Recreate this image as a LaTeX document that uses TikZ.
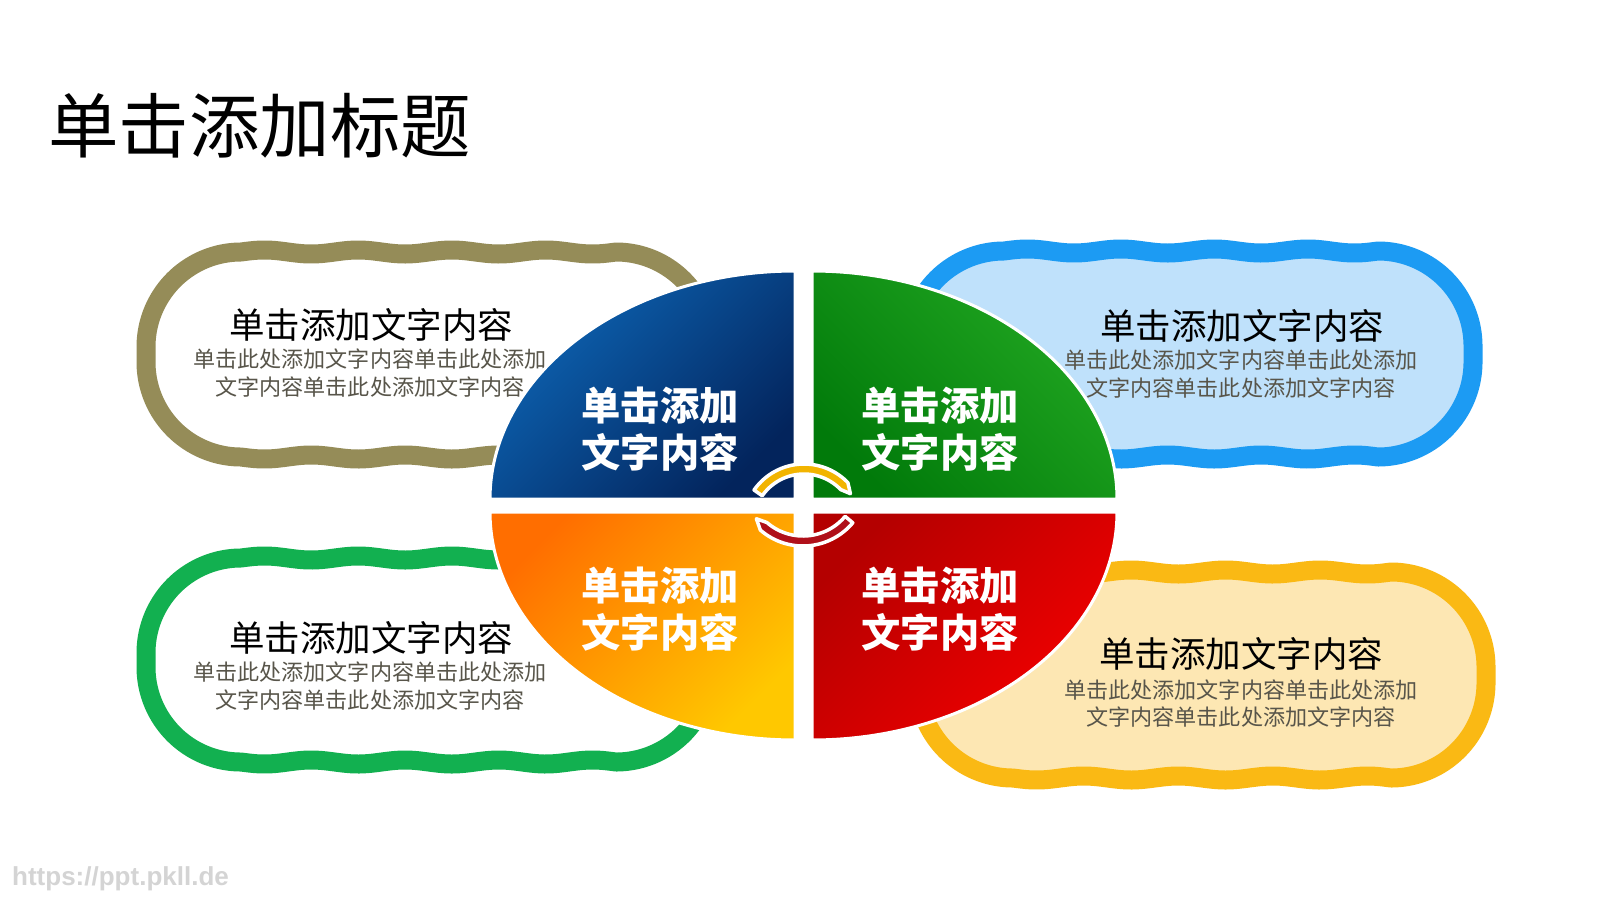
\documentclass[tikz,border=0pt]{standalone}
\usepackage{fontspec}
\newfontfamily\cjk{Noto Sans CJK SC}
\newfontfamily\wmfont{Liberation Sans}
\definecolor{olivel}{HTML}{958C58}
\definecolor{bluel}{HTML}{1C9BF3}
\definecolor{bluef}{HTML}{BFE1FB}
\definecolor{greenl}{HTML}{12B050}
\definecolor{yell}{HTML}{FAB914}
\definecolor{yelf}{HTML}{FDE7B3}
\definecolor{subgray}{HTML}{58554A}
\definecolor{qbluea}{HTML}{0D66B6}
\definecolor{qblueb}{HTML}{03245C}
\definecolor{qgreena}{HTML}{22A822}
\definecolor{qgreenb}{HTML}{017A0A}
\definecolor{qorangea}{HTML}{FF6E00}
\definecolor{qorangeb}{HTML}{FFC800}
\definecolor{qreda}{HTML}{B40000}
\definecolor{qredb}{HTML}{F40000}
\definecolor{arrowyel}{HTML}{F2B400}
\definecolor{arrowred}{HTML}{B0101A}
\definecolor{wmgray}{HTML}{D4D4D4}
\newcommand\wavepill[6]{%
  \pgfmathsetmacro\wpL{#3}\pgfmathsetmacro\wpT{#4}%
  \pgfmathsetmacro\wpR{#5}\pgfmathsetmacro\wpB{#6}%
  \pgfmathsetmacro\wpa{\wpL+\wpr}\pgfmathsetmacro\wpb{\wpR-\wpr}%
  \pgfmathsetmacro\wplen{\wpb-\wpa}%
  \filldraw[pillline, draw=#1, fill=#2]
    plot[domain=\wpa:\wpb] (\x,{\wpT-\wpamp*sin(((\x-\wpa)/\wplen)*360*\wpn)})
    -- plot[domain=270:360] ({\wpb+\wpr*cos(\x)},{\wpT+\wpr+\wpr*sin(\x)})
    -- plot[domain=0:90] ({\wpb+\wpr*cos(\x)},{\wpB-\wpr+\wpr*sin(\x)})
    -- plot[domain=\wpb:\wpa] (\x,{\wpB+\wpamp*sin(((\x-\wpa)/\wplen)*360*\wpn)})
    -- plot[domain=90:180] ({\wpa+\wpr*cos(\x)},{\wpB-\wpr+\wpr*sin(\x)})
    -- plot[domain=180:270] ({\wpa+\wpr*cos(\x)},{\wpT+\wpr+\wpr*sin(\x)})
    -- cycle;}
\def\wpr{95}
\def\wpamp{2}
\def\wpn{4}
\begin{document}
\begin{tikzpicture}[x=1pt,y=-1pt,
  pillline/.style={line width=19pt, samples=90, line join=round},
  quarter/.style={draw=white, line width=3pt, samples=90, line join=round},
  ptitle/.style={anchor=base, inner sep=0pt, text=black, font=\cjk\fontsize{35.5}{40}\selectfont},
  psub/.style={anchor=base, inner sep=0pt, text=subgray, font=\cjk\fontsize{22.1}{26}\selectfont},
  qtext/.style={anchor=base, inner sep=0pt, text=white, font=\cjk\bfseries\fontsize{39.3}{45}\selectfont},
  arrowband/.style={draw=white, line width=3.5pt, line join=round, samples=40}]
\useasboundingbox (0,0) rectangle (1600,900);
\fill[white] (0,0) rectangle (1600,900);

% title
\node[anchor=base west, inner sep=0pt, font=\cjk\fontsize{70.5}{80}\selectfont] (title) at (48,152) {单击添加标题};

% wavy pills
\wavepill{olivel}{white}{146}{252}{711}{457}
\wavepill{bluel}{bluef}{909}{251}{1473}{457}
\wavepill{greenl}{white}{146}{558}{711}{762}
\wavepill{yell}{yelf}{918}{572}{1486}{778}

% pill texts
\node[ptitle] (t1) at (371,338) {单击添加文字内容};
\node[psub] (s1a) at (370,367.4) {单击此处添加文字内容单击此处添加};
\node[psub] (s1b) at (370,395.4) {文字内容单击此处添加文字内容};
\node[ptitle] (t2) at (1242,339) {单击添加文字内容};
\node[psub] (s2a) at (1241,368.4) {单击此处添加文字内容单击此处添加};
\node[psub] (s2b) at (1241,396.4) {文字内容单击此处添加文字内容};
\node[ptitle] (t3) at (371,651.5) {单击添加文字内容};
\node[psub] (s3a) at (370,680.4) {单击此处添加文字内容单击此处添加};
\node[psub] (s3b) at (370,708.4) {文字内容单击此处添加文字内容};
\node[ptitle] (t4) at (1241,667.5) {单击添加文字内容};
\node[psub] (s4a) at (1241,698.4) {单击此处添加文字内容单击此处添加};
\node[psub] (s4b) at (1241,725.4) {文字内容单击此处添加文字内容};

% ellipse quarters
\path[quarter, top color=qbluea, bottom color=qblueb, shading angle=45]
  (795,499) -- plot[domain=180:270] ({795+305*cos(\x)},{499+228*sin(\x)}) -- cycle;
\path[quarter, top color=qgreena, bottom color=qgreenb, shading angle=-45]
  (812,499) -- plot[domain=270:360] ({812+305*cos(\x)},{499+228*sin(\x)}) -- cycle;
\path[quarter, top color=qorangea, bottom color=qorangeb, shading angle=45]
  (795,512) -- plot[domain=90:180] ({795+305*cos(\x)},{512+228*sin(\x)}) -- cycle;
\path[quarter, top color=qreda, bottom color=qredb, shading angle=45]
  (812,512) -- plot[domain=0:90] ({812+305*cos(\x)},{512+228*sin(\x)}) -- cycle;

% circular arrows
\filldraw[arrowband, fill=arrowyel]
  plot[domain=215:316] ({804+61*cos(\x)},{525+61*sin(\x)})
  -- ({804+56*cos(326)},{525+56*sin(326)})
  -- plot[domain=316:215] ({804+51*cos(\x)},{525+51*sin(\x)}) -- cycle;
\filldraw[arrowband, fill=arrowred]
  plot[domain=40:131] ({803+65*cos(\x)},{481+65*sin(\x)})
  -- ({803+60*cos(141)},{481+60*sin(141)})
  -- plot[domain=131:40] ({803+55*cos(\x)},{481+55*sin(\x)}) -- cycle;

% quarter texts
\node[qtext] (q1a) at (660,420) {单击添加};
\node[qtext] (q1b) at (660,467) {文字内容};
\node[qtext] (q2a) at (940,420) {单击添加};
\node[qtext] (q2b) at (940,467) {文字内容};
\node[qtext] (q3a) at (660,600) {单击添加};
\node[qtext] (q3b) at (660,647) {文字内容};
\node[qtext] (q4a) at (940,600) {单击添加};
\node[qtext] (q4b) at (940,647) {文字内容};

% watermark
\node[anchor=base west, inner sep=0pt, text=wmgray, font=\wmfont\bfseries\fontsize{26}{30}\selectfont] (wm) at (12,885) {https://ppt.pkll.de};
\end{tikzpicture}
\end{document}
